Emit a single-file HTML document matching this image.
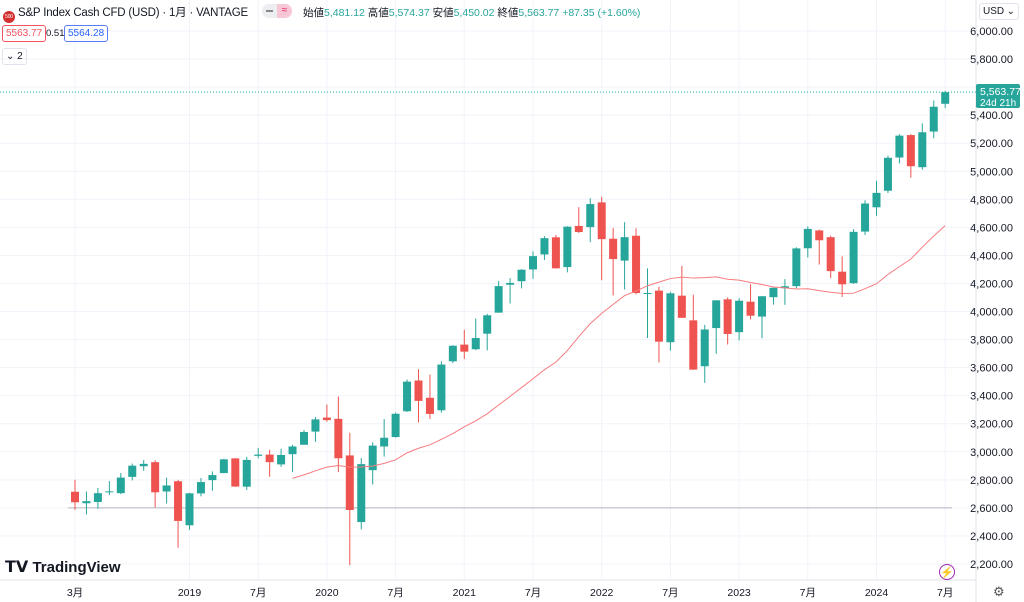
<!DOCTYPE html><html><head><meta charset="utf-8"><style>
body{margin:0;width:1024px;height:602px;background:#fff;overflow:hidden;font-family:"Liberation Sans","Noto Sans CJK JP",sans-serif}
#c{position:absolute;left:0;top:0}
.h{position:absolute;font-size:12px;color:#131722;white-space:nowrap}
.g{color:#26a69a}
.box{position:absolute;border:1px solid;border-radius:3px;font-size:10px;height:15px;line-height:15px;padding:0 3px}
</style></head><body>
<svg id="c" width="1024" height="602"></svg>
<div class="h" style="left:3px;top:4px;font-size:11.5px;letter-spacing:-0.2px"><span style="display:inline-block;width:12px;height:12px;border-radius:50%;background:#d32f2f;color:#fff;font-size:5px;line-height:12px;text-align:center;vertical-align:-2px">500</span> S&amp;P Index Cash CFD (USD) · 1月 · VANTAGE</div>
<div style="position:absolute;left:262px;top:4px;width:30px;height:14px;border-radius:7px;background:#eceef2"></div>
<div style="position:absolute;left:277px;top:4px;width:15px;height:14px;border-radius:0 7px 7px 0;background:#f8c7d5;color:#e91e63;font-size:10px;text-align:center;line-height:14px">≈</div>
<div style="position:absolute;left:266px;top:10px;width:7px;height:2px;background:#888"></div>
<div class="h" style="left:303px;top:5px;font-size:10.5px">始値<span class="g">5,481.12</span> 高値<span class="g">5,574.37</span> 安値<span class="g">5,450.02</span> 終値<span class="g">5,563.77</span> <span class="g">+87.35 (+1.60%)</span></div>
<div class="box" style="left:2px;top:25px;border-color:#f7525f;color:#f7525f">5563.77</div>
<div class="h" style="left:46px;top:28px;font-size:9.5px">0.51</div>
<div class="box" style="left:64px;top:25px;border-color:#5b7cf5;color:#2962ff">5564.28</div>
<div class="box" style="left:2px;top:48px;border-color:#e0e3eb;color:#131722">⌄ 2</div>
<div class="box" style="left:979px;top:3px;border-color:#e0e3eb;color:#131722;font-size:10px;width:32px">USD <span style="float:right">⌄</span></div>
<div style="position:absolute;left:5px;top:557px;font-size:15px;font-weight:bold;color:#131722"><span style="font-size:16px">𝗧𝗩</span> TradingView</div>
<div style="position:absolute;left:939px;top:564px;width:16px;height:16px;border-radius:50%;border:1px solid #9c27b0;color:#9c27b0;font-size:11px;text-align:center;line-height:16px;box-sizing:border-box">⚡</div>
<div style="position:absolute;left:993px;top:584px;font-size:13px;color:#555">⚙</div>
<script>
const D=[[2715,2801,2586,2640],[2633,2717,2553,2648],[2642,2742,2594,2705],[2718,2791,2691,2718],[2705,2848,2698,2816],[2821,2916,2796,2901],[2897,2941,2864,2914],[2926,2940,2604,2711],[2717,2815,2631,2760],[2790,2800,2316,2507],
[2476,2708,2444,2704],[2703,2813,2682,2784],[2798,2860,2722,2834],[2848,2950,2848,2946],[2953,2954,2750,2752],[2751,2964,2728,2942],[2971,3028,2953,2980],[2980,3014,2822,2926],[2910,3022,2892,2977],[2983,3050,2855,3038],[3050,3154,3050,3141],[3144,3248,3071,3231],
[3244,3337,3214,3226],[3235,3394,2855,2954],[2974,3136,2192,2585],[2499,2955,2447,2912],[2869,3068,2767,3044],[3038,3233,2966,3100],[3105,3280,3101,3271],[3289,3515,3284,3500],[3508,3588,3210,3363],[3385,3550,3234,3270],[3296,3646,3279,3622],[3645,3760,3633,3756],
[3764,3870,3662,3714],[3731,3950,3725,3811],[3842,3983,3723,3973],[3992,4218,3992,4181],[4191,4238,4057,4204],[4216,4302,4165,4298],[4300,4429,4233,4395],[4407,4537,4367,4523],[4529,4546,4306,4308],[4317,4608,4279,4605],[4610,4744,4560,4567],[4602,4808,4495,4766],
[4778,4818,4223,4516],[4519,4595,4115,4374],[4363,4637,4157,4530],[4540,4593,4123,4132],[4130,4308,3811,4132],[4149,4177,3637,3785],[3781,4140,3721,4130],[4113,4325,3955,3955],[3937,4120,3584,3586],[3610,3905,3492,3872],[3882,4080,3699,4080],[4087,4101,3765,3840],
[3853,4095,3795,4077],[4070,4195,3943,3970],[3964,4110,3809,4109],[4102,4170,4049,4169],[4166,4231,4048,4180],[4181,4458,4166,4450],[4451,4607,4385,4589],[4578,4584,4335,4508],[4530,4541,4238,4288],[4284,4393,4104,4194],[4202,4587,4197,4568],[4570,4793,4546,4770],
[4743,4932,4683,4846],[4861,5111,4845,5096],[5098,5265,5056,5254],[5258,5264,4954,5036],[5029,5342,5012,5278],[5283,5505,5235,5460],[5481,5574,5450,5564]];
const X=i=>75+i*11.45, Y=p=>31+(6000-p)*0.14026;
let s='';
for(let p=2200;p<=6000;p+=200){const y=Y(p);s+=`<line x1="0" x2="976" y1="${y}" y2="${y}" stroke="#f0f3fa"/>`;if(Math.abs(y-91)>8)s+=`<text x="1013" y="${y+4}" font-size="11" text-anchor="end" fill="#131722">${p.toLocaleString('en-US')}.00</text>`;}
const L=[[0,'3月'],[10,'2019'],[16,'7月'],[22,'2020'],[28,'7月'],[34,'2021'],[40,'7月'],[46,'2022'],[52,'7月'],[58,'2023'],[64,'7月'],[70,'2024'],[76,'7月']];
L.forEach(([i,t])=>{const x=X(i);s+=`<line x1="${x}" x2="${x}" y1="0" y2="580" stroke="#f0f3fa"/><text x="${x}" y="596" font-size="10.5" text-anchor="middle" fill="#131722">${t}</text>`});
s+=`<line x1="976" x2="976" y1="0" y2="602" stroke="#e0e3eb"/><line x1="0" x2="976" y1="580" y2="580" stroke="#e0e3eb"/>`;
s+=`<line x1="68" x2="952" y1="${Y(2600)}" y2="${Y(2600)}" stroke="#b2b5be"/>`;
s+=`<line x1="0" x2="976" y1="${Y(5563.77)}" y2="${Y(5563.77)}" stroke="#26a69a" stroke-dasharray="1,2"/>`;
D.forEach((d,i)=>{const [o,h,l,c]=d,col=c>=o?'#26a69a':'#ef5350',x=X(i);s+=`<line x1="${x}" x2="${x}" y1="${Y(h)}" y2="${Y(l)}" stroke="${col}"/>`;const t=Y(Math.max(o,c)),b=Y(Math.min(o,c));s+=`<rect x="${x-4}" y="${t}" width="8" height="${Math.max(1,b-t)}" fill="${col}"/>`});
let pts=[];for(let i=19;i<D.length;i++){let a=0;for(let j=i-19;j<=i;j++)a+=D[j][3];pts.push(X(i)+','+Y(a/20))}
s+=`<polyline points="${pts.join(' ')}" fill="none" stroke="#f77c80" stroke-width="1"/>`;
s+=`<rect x="976" y="84" width="44" height="24" fill="#26a69a" rx="2"/><text x="980" y="95" font-size="10.5" fill="#fff">5,563.77</text><text x="980" y="106" font-size="10" fill="#fff">24d 21h</text>`;
document.getElementById('c').innerHTML=s;
</script>
</body></html>
